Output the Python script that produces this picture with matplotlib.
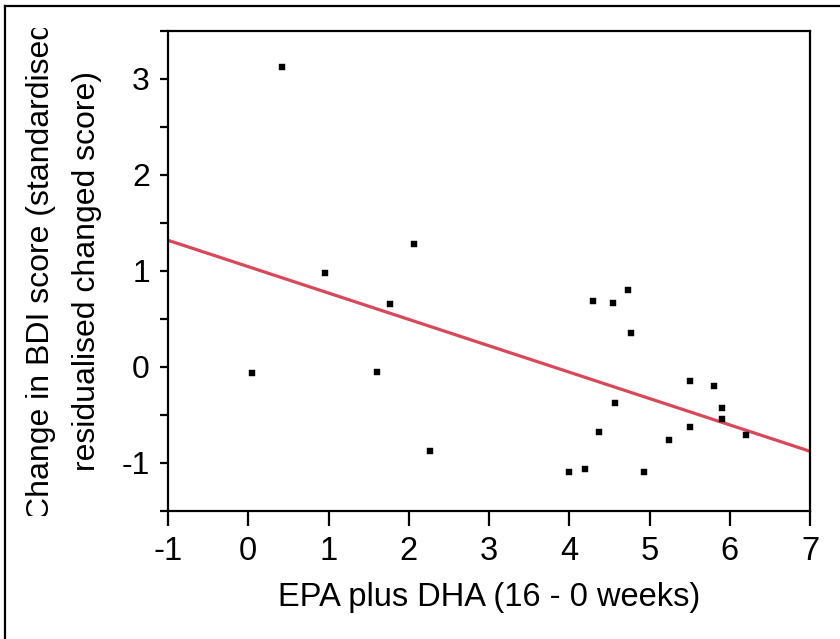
import matplotlib
matplotlib.use("Agg")
import matplotlib.pyplot as plt
from matplotlib.lines import Line2D
from matplotlib.transforms import Bbox, TransformedBbox
from matplotlib.ticker import MultipleLocator

plt.rcParams['font.family'] = ['Liberation Sans', 'DejaVu Sans']

# data
epa_dha = [0.05, 0.42, 0.96, 1.60, 1.77, 2.06, 2.27, 4.30, 4.54, 4.735, 4.77,
           5.50, 5.80, 5.90, 5.90, 6.20, 4.57, 4.37, 5.24, 5.50, 4.00, 4.20, 4.93]
bdi_change = [-0.066, 3.12, 0.975, -0.055, 0.66, 1.28, -0.88, 0.689, 0.663, 0.80, 0.354,
              -0.146, -0.20, -0.427, -0.538, -0.705, -0.371, -0.677, -0.76, -0.621,
              -1.093, -1.066, -1.093]
fit_x = [-1, 7]
fit_y = [1.32, -0.878]

x_ticks = [-1, 0, 1, 2, 3, 4, 5, 6, 7]
y_ticks = [-1, 0, 1, 2, 3]

W, H = 840, 639
fig = plt.figure(figsize=(W / 100, H / 100), dpi=100)
ax = fig.add_axes([168 / W, 1 - 511 / H, (810 - 168) / W, (511 - 31) / H])

ax.plot(fit_x, fit_y, color='#d9485a', lw=2.3, solid_capstyle='butt', zorder=2)
ax.plot(epa_dha, bdi_change, ls='none', marker='s', ms=3.8, color='black',
        mec='black', mew=0.3, zorder=3)

ax.set_xlim(-1, 7)
ax.set_ylim(-1.5, 3.5)
ax.set_xticks(x_ticks)
ax.set_xticklabels([str(v) for v in x_ticks])
ax.set_yticks(y_ticks)
ax.set_yticklabels([str(v) for v in y_ticks])
ax.yaxis.set_minor_locator(MultipleLocator(0.5))

for s in ax.spines.values():
    s.set_linewidth(1.6)
ax.tick_params(axis='x', which='major', direction='out', length=11, width=1.6,
               labelsize=23.5, pad=7, top=False)
ax.tick_params(axis='y', which='both', direction='out', length=6, width=1.6,
               labelsize=23, pad=7, right=False)
ax.tick_params(axis='x', which='minor', bottom=False, top=False)

ax.set_xlabel('EPA plus DHA (16 - 0 weeks)', fontsize=23.5, labelpad=11)

# y label: two lines, first one clipped
clip = TransformedBbox(Bbox([[0, 123 / H], [1, 611 / H]]), fig.transFigure)
y_center = 1 - 271 / H
t1 = fig.text(41.5 / W, y_center, 'Change in BDI score (standardised',
              rotation=90, ha='center', va='center', fontsize=23)
t1.set_clip_box(clip)
t1.set_clip_on(True)
fig.text(87 / W, y_center, 'residualised changed score)',
         rotation=90, ha='center', va='center', fontsize=23)

# figure frame (top and left only)
fig.add_artist(Line2D([5 / W, 1], [1 - 6 / H, 1 - 6 / H], transform=fig.transFigure,
                      color='black', lw=1.6))
fig.add_artist(Line2D([5 / W, 5 / W], [0, 1 - 6 / H], transform=fig.transFigure,
                      color='black', lw=1.6))

fig.savefig('out.png', dpi=100)
